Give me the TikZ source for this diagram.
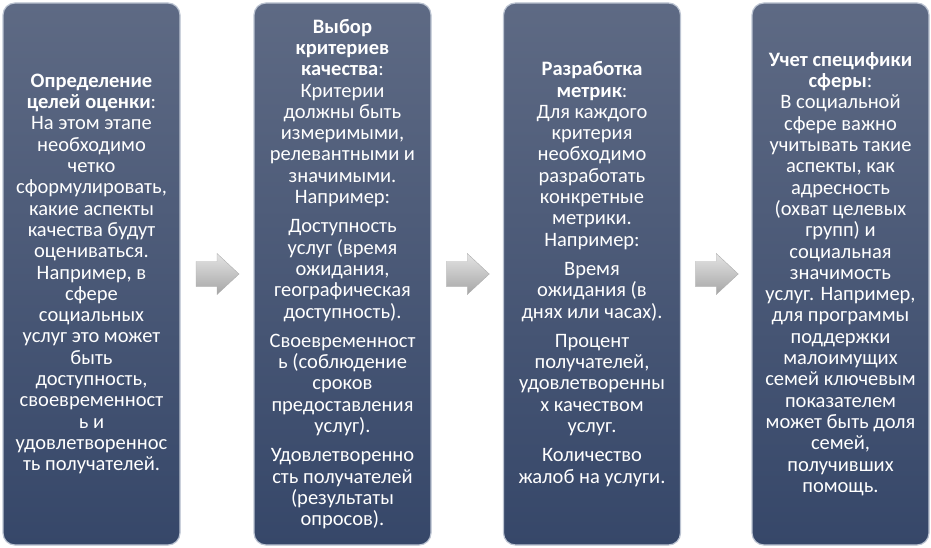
\documentclass[tikz,border=0pt]{standalone}
\usepackage{fontspec}
\setmainfont{Carlito}
\usetikzlibrary{calc}
\definecolor{boxtop}{RGB}{94,106,132}
\definecolor{boxbot}{RGB}{54,71,105}
\definecolor{boxedge}{RGB}{188,196,210}
\definecolor{arrtop}{RGB}{228,228,228}
\definecolor{arrbot}{RGB}{165,165,165}
\tikzset{
  stagebox/.style={rectangle, rounded corners=12pt, minimum width=177pt,
    minimum height=542pt, top color=boxtop, bottom color=boxbot,
    draw=boxedge, line width=1.2pt, text=white, align=center,
    font=\fontsize{20.5}{21.3}\selectfont, inner sep=0pt},
  flowarrow/.style={top color=arrtop, bottom color=arrbot, draw=arrbot!90,
    line width=0.4pt, line join=miter}
}
\newcommand{\pgap}{\\[8pt]}
\newcommand{\blockarrow}[1]{%
  \path[flowarrow] ($(#1)+(-21,-12.5)$) -- ++(21,0) -- ++(0,-8) -- ++(22,20.5)
    -- ++(-22,20.5) -- ++(0,-8) -- ++(-21,0) -- cycle;}
\begin{document}
\begin{tikzpicture}[x=1pt,y=-1pt]
\useasboundingbox (0,0) rectangle (931,548);
\node[stagebox] (b1) at (91.5,274) {\textbf{Определение}\\\textbf{целей оценки}:\\На этом этапе\\необходимо\\четко\\сформулировать,\\какие аспекты\\качества будут\\оцениваться.\\Например, в\\сфере\\социальных\\услуг это может\\быть\\доступность,\\своевременност\\ь и\\удовлетвореннос\\ть получателей.};
\node[stagebox] (b2) at (342.5,274) {\textbf{Выбор}\\\textbf{критериев}\\\textbf{качества}:\\Критерии\\должны быть\\измеримыми,\\релевантными и\\значимыми.\\Например:\pgap Доступность\\услуг (время\\ожидания,\\географическая\\доступность).\pgap Своевременност\\ь (соблюдение\\сроков\\предоставления\\услуг).\pgap Удовлетворенно\\сть получателей\\(результаты\\опросов).};
\node[stagebox] (b3) at (592,274) {\textbf{Разработка}\\\textbf{метрик}:\\Для каждого\\критерия\\необходимо\\разработать\\конкретные\\метрики.\\Например:\pgap Время\\ожидания (в\\днях или часах).\pgap Процент\\получателей,\\удовлетворенны\\х качеством\\услуг.\pgap Количество\\жалоб на услуги.};
\node[stagebox] (b4) at (840.5,274) {\textbf{Учет специфики}\\\textbf{сферы}:\\В социальной\\сфере важно\\учитывать такие\\аспекты, как\\адресность\\(охват целевых\\групп) и\\социальная\\значимость\\услуг. Например,\\для программы\\поддержки\\малоимущих\\семей ключевым\\показателем\\может быть доля\\семей,\\получивших\\помощь.};
\coordinate (m1) at ($(b1.east)!0.5!(b2.west)$);
\coordinate (m2) at ($(b2.east)!0.5!(b3.west)$);
\coordinate (m3) at ($(b3.east)!0.5!(b4.west)$);
\blockarrow{m1}
\blockarrow{m2}
\blockarrow{m3}
\end{tikzpicture}
\end{document}
